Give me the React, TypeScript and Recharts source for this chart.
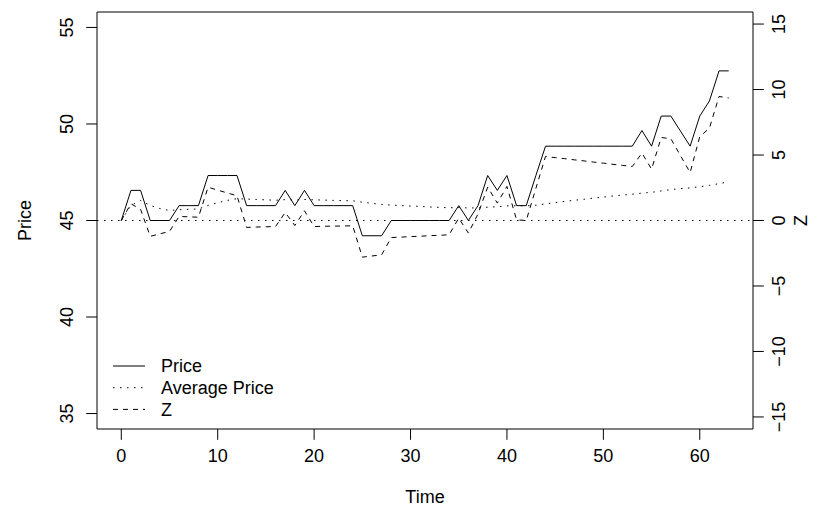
import {
  ComposedChart,
  Line,
  XAxis,
  YAxis,
  ReferenceLine,
  ReferenceArea,
  Legend,
} from 'recharts'

const time = [
  0, 1, 2, 3, 4, 5, 6, 7, 8, 9, 10, 11, 12, 13, 14, 15, 16, 17, 18, 19, 20, 21,
  22, 23, 24, 25, 26, 27, 28, 29, 30, 31, 32, 33, 34, 35, 36, 37, 38, 39, 40, 41,
  42, 43, 44, 45, 46, 47, 48, 49, 50, 51, 52, 53, 54, 55, 56, 57, 58, 59, 60, 61,
  62, 63,
]

const price = [
  45, 46.56, 46.56, 45, 45, 45, 45.77, 45.77, 45.77, 47.33,
  47.33, 47.33, 47.33, 45.77, 45.77, 45.77, 45.77, 46.56, 45.77, 46.56,
  45.77, 45.77, 45.77, 45.77, 45.77, 44.21, 44.21, 44.21, 45, 45,
  45, 45, 45, 45, 45, 45.77, 45, 45.77, 47.33, 46.56,
  47.33, 45.77, 45.77, 47.33, 48.85, 48.85, 48.85, 48.85, 48.85, 48.85,
  48.85, 48.85, 48.85, 48.85, 49.66, 48.85, 50.41, 50.41, 49.63, 48.85,
  50.41, 51.19, 52.75, 52.75,
]

const averagePrice = [
  45, 45.78, 46.04, 45.78, 45.62, 45.52, 45.56, 45.58, 45.6, 45.78,
  45.92, 46.04, 46.13, 46.11, 46.09, 46.07, 46.05, 46.08, 46.06, 46.09,
  46.07, 46.06, 46.04, 46.03, 46.02, 45.95, 45.89, 45.83, 45.8, 45.77,
  45.75, 45.73, 45.7, 45.68, 45.66, 45.67, 45.65, 45.65, 45.69, 45.71,
  45.76, 45.76, 45.76, 45.79, 45.86, 45.93, 45.99, 46.05, 46.1, 46.16,
  46.21, 46.27, 46.32, 46.36, 46.42, 46.46, 46.53, 46.6, 46.65, 46.69,
  46.75, 46.82, 46.91, 47.0,
]

const zScore = [
  0, 1.28, 0.85, -1.21, -1.02, -0.83, 0.31, 0.28, 0.25, 2.54,
  2.32, 2.1, 1.89, -0.53, -0.5, -0.48, -0.46, 0.61, -0.38, 0.74,
  -0.46, -0.44, -0.43, -0.42, -0.4, -2.8, -2.71, -2.62, -1.3, -1.27,
  -1.23, -1.2, -1.16, -1.13, -1.09, 0.18, -0.96, 0.5, 2.55, 1.33,
  2.6, 0.05, 0, 2.45, 4.89, 4.8, 4.72, 4.63, 4.55, 4.46,
  4.38, 4.29, 4.21, 4.12, 5.15, 3.92, 6.34, 6.24, 4.95, 3.66,
  6.41, 7.05, 9.47, 9.35,
]

const timeTicks = [0, 10, 20, 30, 40, 50, 60]
const priceTicks = [35, 40, 45, 50, 55]
const zTicks = [-15, -10, -5, 0, 5, 10, 15]

const rows = time.map((t, i) => ({
  t,
  price: price[i],
  avg: averagePrice[i],
  z: zScore[i],
}))

const FONT = '"Liberation Sans", Arial, Helvetica, sans-serif'
const FS = 18
const DOTTED = '1.5 5.5'
const DASHED = '5 5'

// R draws minus signs as a real minus
const fmt = (v: number) => (v < 0 ? '\u2212' + Math.abs(v) : String(v))

function XTick(p: any) {
  return (
    <text x={p.x} y={p.y} dy="0.71em" textAnchor="middle" fontSize={FS} fontFamily={FONT} fill="#000">
      {fmt(p.payload.value)}
    </text>
  )
}

function SideTick(p: any) {
  return (
    <text
      x={p.x}
      y={p.y}
      dy="0.35em"
      textAnchor="middle"
      transform={`rotate(-90 ${p.x} ${p.y})`}
      fontSize={FS}
      fontFamily={FONT}
      fill="#000"
    >
      {fmt(p.payload.value)}
    </text>
  )
}

function sideTitle(text: string, dx: number) {
  return (props: any) => {
    const vb = props.viewBox
    const x = vb.x + dx
    const y = vb.y + vb.height / 2
    return (
      <text
        x={x}
        y={y}
        dy="0.35em"
        textAnchor="middle"
        transform={`rotate(-90 ${x} ${y})`}
        fontSize={FS}
        fontFamily={FONT}
        fill="#000"
      >
        {text}
      </text>
    )
  }
}

function timeTitle(props: any) {
  const vb = props.viewBox
  return (
    <text
      x={vb.x + vb.width / 2}
      y={vb.y + 68}
      dy="0.35em"
      textAnchor="middle"
      fontSize={FS}
      fontFamily={FONT}
      fill="#000"
    >
      Time
    </text>
  )
}

const legendItems = [
  { label: 'Price', dash: undefined },
  { label: 'Average Price', dash: DOTTED },
  { label: 'Z', dash: DASHED },
]

function LegendBox() {
  return (
    <svg width={220} height={72} style={{ display: 'block' }}>
      {legendItems.map((it, i) => (
        <g key={it.label}>
          <line
            x1={8}
            x2={40}
            y1={14 + i * 21.7}
            y2={14 + i * 21.7}
            stroke="#000"
            strokeWidth={1}
            strokeDasharray={it.dash}
          />
          <text x={56} y={14 + i * 21.7} dy="0.35em" fontSize={FS} fontFamily={FONT} fill="#000">
            {it.label}
          </text>
        </g>
      ))}
    </svg>
  )
}

export default function App() {
  return (
    <div style={{ position: 'absolute', left: 0, top: 0, background: '#fff' }}>
      <ComposedChart
        width={823}
        height={514}
        data={rows}
        margin={{ top: 12, right: 0, bottom: 0, left: 0 }}
      >
        <XAxis
          dataKey="t"
          type="number"
          domain={[-2.52, 65.52]}
          ticks={timeTicks}
          interval={0}
          allowDataOverflow
          height={85}
          axisLine={false}
          tickLine={{ stroke: '#000' }}
          tickSize={10.8}
          tickMargin={9.7}
          tick={XTick}
          label={{ content: timeTitle }}
        />
        <YAxis
          yAxisId="left"
          domain={[34.2, 55.8]}
          ticks={priceTicks}
          interval={0}
          allowDataOverflow
          width={97}
          axisLine={false}
          tickLine={{ stroke: '#000' }}
          tickSize={10.8}
          tickMargin={19.2}
          tick={SideTick}
          label={{ content: sideTitle('Price', 25) }}
        />
        <YAxis
          yAxisId="right"
          orientation="right"
          domain={[-15.92, 15.92]}
          ticks={zTicks}
          interval={0}
          allowDataOverflow
          width={70}
          axisLine={false}
          tickLine={{ stroke: '#000' }}
          tickSize={10.8}
          tickMargin={15.2}
          tick={SideTick}
          label={{ content: sideTitle('Z', 48) }}
        />
        <ReferenceArea
          yAxisId="left"
          x1={-2.52}
          x2={65.52}
          y1={34.2}
          y2={55.8}
          fill="none"
          stroke="#000"
          strokeWidth={1}
          fillOpacity={0}
        />
        <ReferenceLine yAxisId="left" y={45} stroke="#000" strokeDasharray={DOTTED} />
        <Line
          yAxisId="left"
          dataKey="price"
          type="linear"
          stroke="#000"
          strokeWidth={1}
          dot={false}
          isAnimationActive={false}
        />
        <Line
          yAxisId="left"
          dataKey="avg"
          type="linear"
          stroke="#000"
          strokeWidth={1}
          strokeDasharray={DOTTED}
          dot={false}
          isAnimationActive={false}
        />
        <Line
          yAxisId="right"
          dataKey="z"
          type="linear"
          stroke="#000"
          strokeWidth={1}
          strokeDasharray={DASHED}
          dot={false}
          isAnimationActive={false}
        />
        <Legend
          layout="horizontal"
          verticalAlign="middle"
          align="center"
          content={() => <LegendBox />}
          wrapperStyle={{ left: 105, top: 352, width: 220, height: 72 }}
        />
      </ComposedChart>
    </div>
  )
}
